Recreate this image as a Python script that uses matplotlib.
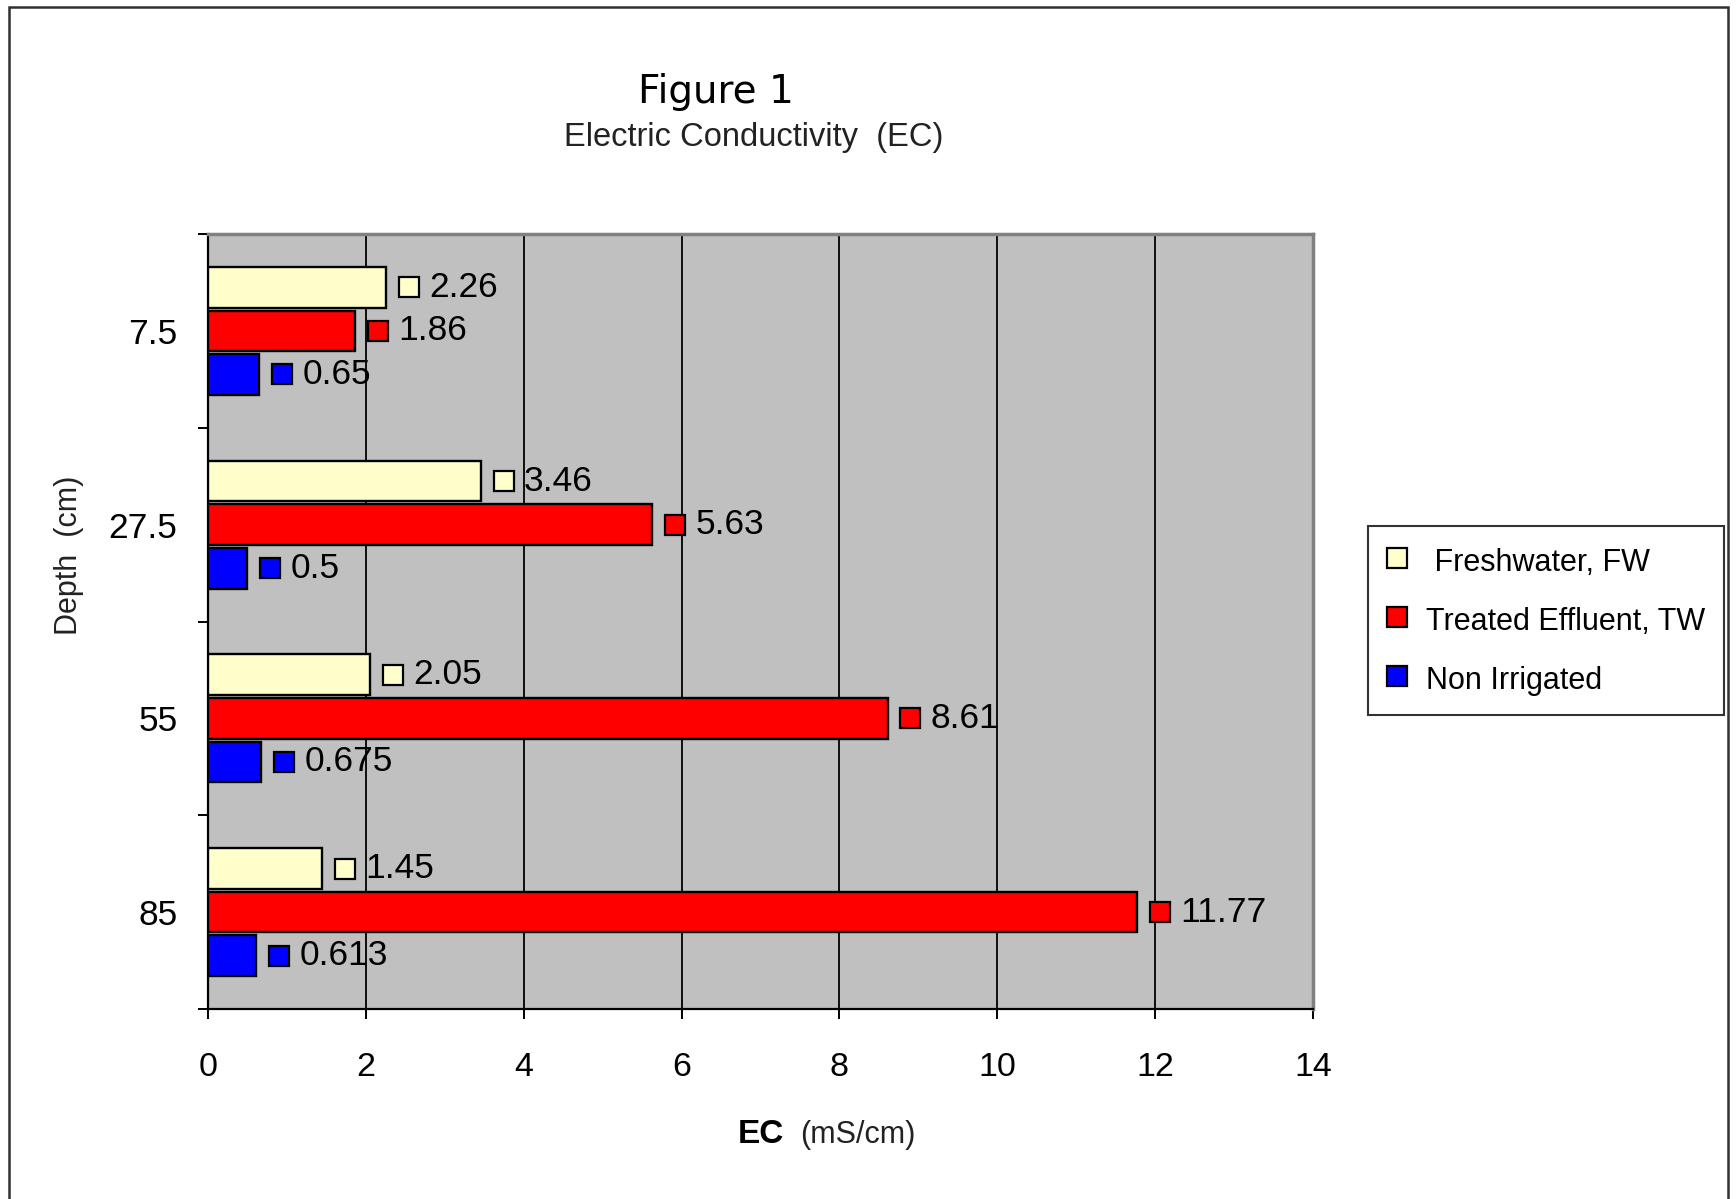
import matplotlib
matplotlib.use("Agg")
import numpy as np
import matplotlib.pyplot as plt
from matplotlib.lines import Line2D
from matplotlib.patches import Rectangle
from matplotlib import transforms

plt.rcParams['font.family'] = ['Liberation Sans', 'DejaVu Sans']

# EC by depth for each treatment
depths = ['7.5', '27.5', '55', '85']
freshwater = [2.26, 3.46, 2.05, 1.45]
treated = [1.86, 5.63, 8.61, 11.77]
non_irrigated = [0.65, 0.5, 0.675, 0.613]
value_text = [['2.26', '3.46', '2.05', '1.45'],
              ['1.86', '5.63', '8.61', '11.77'],
              ['0.65', '0.5', '0.675', '0.613']]

series = [freshwater, treated, non_irrigated]
names = [' Freshwater, FW', 'Treated Effluent, TW', 'Non Irrigated']
colors = ['#FFFFCC', '#FF0000', '#0000FF']
offsets = [-0.225, 0.0, 0.225]

W, H = 1736, 1199
fig = plt.figure(figsize=(W / 100, H / 100), dpi=100)
fig.patch.set_facecolor('white')

# outer frame round the whole chart
fig.add_artist(Rectangle((9 / W, -0.01), 1719 / W, 1.01 - 7 / H,
                         transform=fig.transFigure, fill=False,
                         ec='#303030', lw=1.8))

ax = fig.add_axes([208 / W, 1 - 1009 / H, (1313 - 208) / W, (1009 - 234) / H])
ax.set_facecolor('#C0C0C0')
ax.set_axisbelow(True)

y = np.arange(len(depths))
for vals, col, off, labels in zip(series, colors, offsets, value_text):
    ax.barh(y + off, vals, height=0.21, color=col, edgecolor='black', lw=1.7, zorder=3)
    # small coloured square next to each bar, then the value
    mk_tr = transforms.offset_copy(ax.transData, fig=fig, x=16.5, y=0, units='points')
    ax.plot(vals, y + off, ls='none', marker='s', ms=15, mfc=col, mec='black',
            mew=1.6, transform=mk_tr, zorder=4, clip_on=False)
    for v, yy, t in zip(vals, y + off, labels):
        ax.annotate(t, xy=(v, yy), xytext=(31, 0), textcoords='offset points',
                    ha='left', va='center', fontsize=25.5, zorder=5)

ax.set_xlim(0, 14)
ax.set_ylim(3.5, -0.5)
ax.set_xticks(np.arange(0, 15, 2))
ax.set_xticklabels([str(v) for v in range(0, 15, 2)], fontsize=24.5)
ax.xaxis.grid(True, color='black', lw=1.3)
ax.tick_params(axis='x', direction='out', length=7, width=1.4, pad=24)

ax.set_yticks(np.arange(-0.5, 4, 1.0))
ax.set_yticklabels([])
ax.set_yticks(y, minor=True)
ax.set_yticklabels(depths, minor=True, fontsize=25.5)
ax.tick_params(axis='y', which='major', direction='out', length=7, width=1.4)
ax.tick_params(axis='y', which='minor', length=0, pad=22)

for s in ['top', 'right']:
    ax.spines[s].set_color('#808080')
    ax.spines[s].set_linewidth(2.5)
for s in ['left', 'bottom']:
    ax.spines[s].set_color('black')
    ax.spines[s].set_linewidth(1.6)

# titles and axis labels
fig.text(716 / W, 1 - 103 / H, 'Figure 1', ha='center', va='baseline',
         fontsize=28, family='DejaVu Sans')
fig.text(754 / W, 1 - 146 / H, 'Electric Conductivity  (EC)', ha='center',
         va='baseline', fontsize=23.5, color='#222222')
fig.text(738 / W, 1 - 1143 / H, 'EC', ha='left', va='baseline', fontsize=24,
         fontweight='bold')
fig.text(800 / W, 1 - 1143 / H, '(mS/cm)', ha='left', va='baseline', fontsize=22,
         color='#222222')
fig.text(69 / W, 1 - 555 / H, 'Depth  (cm)', ha='center', va='center',
         rotation=90, fontsize=22, color='#222222')

handles = [Line2D([], [], ls='none', marker='s', ms=15, mfc=c, mec='black', mew=1.6)
           for c in colors]
leg = fig.legend(handles, names, loc='upper left',
                 bbox_to_anchor=(1368 / W, 1 - 526 / H), bbox_transform=fig.transFigure,
                 borderaxespad=0, fontsize=22, frameon=True, fancybox=False,
                 edgecolor='black', handlelength=0.66, handleheight=1.2,
                 handletextpad=0.62, labelspacing=0.86, borderpad=0.62)
leg.get_frame().set_linewidth(1.5)
leg.get_frame().set_facecolor('white')

fig.savefig('out.png', dpi=100, facecolor='white')
